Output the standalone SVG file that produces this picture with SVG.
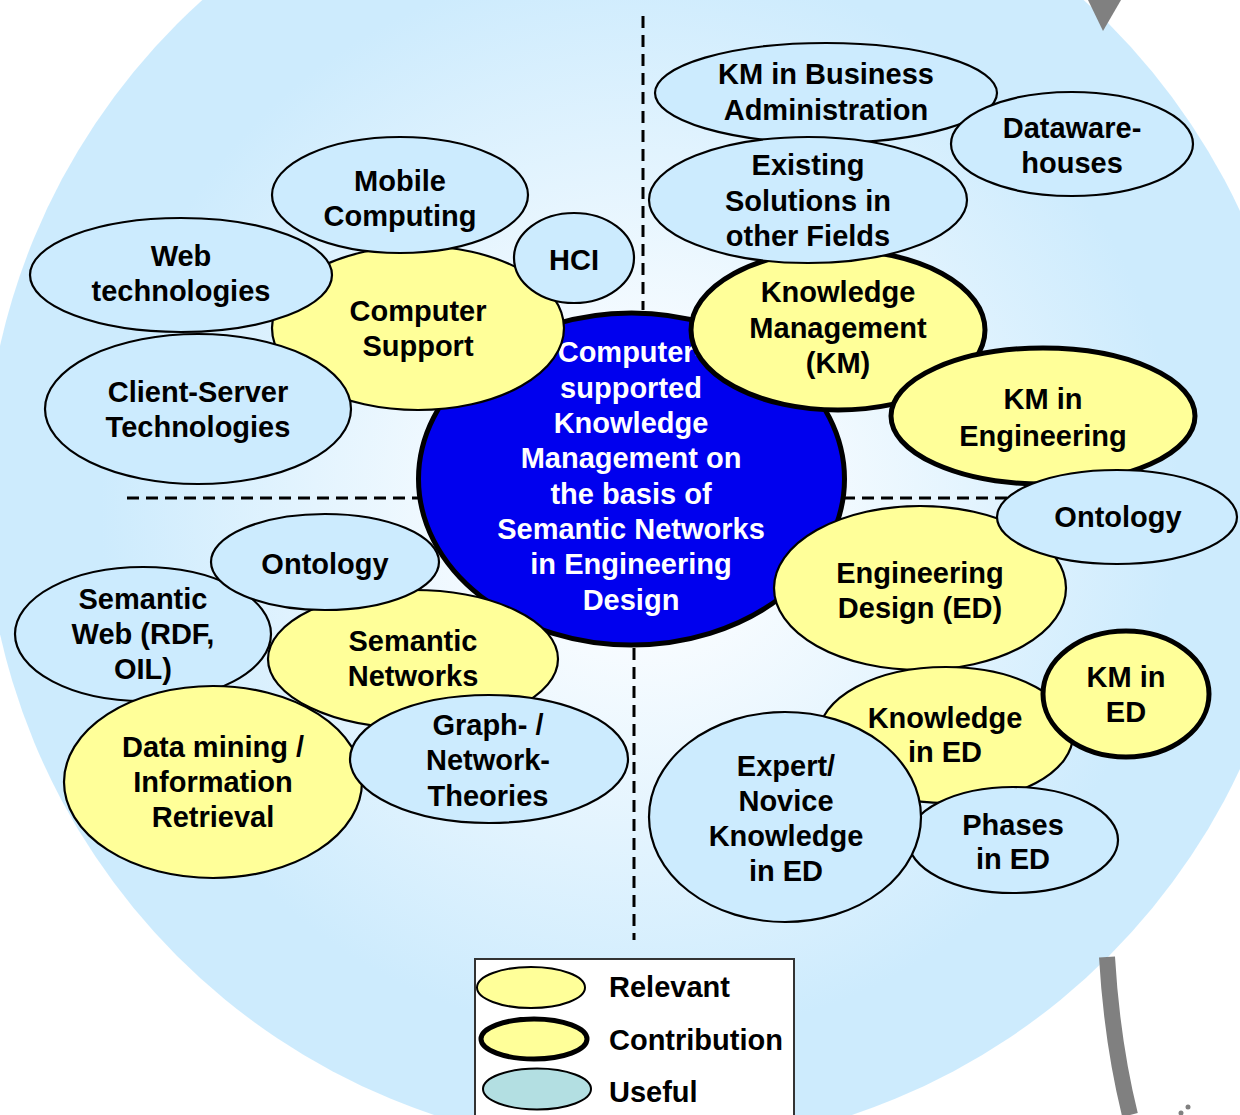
<svg xmlns="http://www.w3.org/2000/svg" width="1240" height="1115" viewBox="0 0 1240 1115">
<defs>
<radialGradient id="bg" gradientUnits="userSpaceOnUse" cx="640" cy="500" r="540">
<stop offset="0" stop-color="#ffffff"/>
<stop offset="0.25" stop-color="#f8fcff"/>
<stop offset="1" stop-color="#cdebfd"/>
</radialGradient>
<style>
text{font-family:"Liberation Sans",Arial,sans-serif;font-weight:bold;font-size:29px;text-anchor:middle;fill:#000}
.c text{fill:#fff}
.use{fill:#ccebfe;stroke:#000;stroke-width:2.2}
.rel{fill:#ffff99;stroke:#000;stroke-width:2.2}
.con{fill:#ffff99;stroke:#000;stroke-width:5}
.dash{stroke:#000;stroke-width:3;stroke-dasharray:12 7;fill:none}
</style>
</defs>
<rect width="1240" height="1115" fill="#fff"/>
<circle cx="643" cy="490" r="659" fill="url(#bg)"/>
<polygon points="1088,0 1121,0 1103,31" fill="#808080"/>
<path d="M1107,957 Q1112,1042 1130,1115" fill="none" stroke="#808080" stroke-width="16"/>
<circle cx="1188" cy="1107" r="2.5" fill="#808080"/>
<circle cx="1181" cy="1113" r="2.5" fill="#808080"/>

<g id="connectors">
<line class="dash" x1="643" y1="16" x2="643" y2="310"/>
<line class="dash" x1="127" y1="498" x2="420" y2="498"/>
<line class="dash" x1="843" y1="498" x2="1010" y2="498"/>
<line class="dash" x1="634" y1="648" x2="634" y2="940"/>
</g>

<g id="center" class="c">
<ellipse cx="631.5" cy="479" rx="213" ry="166" fill="#0000ee" stroke="#000" stroke-width="5"/>
<text x="631" y="362">Computer-</text>
<text x="631" y="398">supported</text>
<text x="631" y="433">Knowledge</text>
<text x="631" y="468">Management on</text>
<text x="631" y="504">the basis of</text>
<text x="631" y="539">Semantic Networks</text>
<text x="631" y="574">in Engineering</text>
<text x="631" y="610">Design</text>
</g>

<g id="computer-support">
<ellipse class="rel" cx="418" cy="328" rx="146" ry="82"/>
<text x="418" y="321">Computer</text>
<text x="418" y="356">Support</text>
</g>
<g id="web-tech">
<ellipse class="use" cx="181" cy="275" rx="151" ry="57"/>
<text x="181" y="266">Web</text>
<text x="181" y="301">technologies</text>
</g>
<g id="client-server">
<ellipse class="use" cx="198" cy="409" rx="153" ry="75"/>
<text x="198" y="402">Client-Server</text>
<text x="198" y="437">Technologies</text>
</g>
<g id="mobile">
<ellipse class="use" cx="400" cy="195" rx="128" ry="58"/>
<text x="400" y="191">Mobile</text>
<text x="400" y="226">Computing</text>
</g>
<g id="hci">
<ellipse class="use" cx="574" cy="258" rx="60" ry="45"/>
<text x="574" y="270">HCI</text>
</g>

<g id="km">
<ellipse class="con" cx="838" cy="330" rx="147" ry="80"/>
<text x="838" y="302">Knowledge</text>
<text x="838" y="338">Management</text>
<text x="838" y="373">(KM)</text>
</g>
<g id="km-business">
<ellipse class="use" cx="826" cy="93" rx="171" ry="50"/>
<text x="826" y="84">KM in Business</text>
<text x="826" y="120">Administration</text>
</g>
<g id="existing">
<ellipse class="use" cx="808" cy="200" rx="159" ry="63"/>
<text x="808" y="175">Existing</text>
<text x="808" y="211">Solutions in</text>
<text x="808" y="246">other Fields</text>
</g>
<g id="datawarehouses">
<ellipse class="use" cx="1072" cy="144" rx="121" ry="52"/>
<text x="1072" y="138">Dataware-</text>
<text x="1072" y="173">houses</text>
</g>
<g id="km-engineering">
<ellipse class="con" cx="1043" cy="416" rx="152" ry="68"/>
<text x="1043" y="409">KM in</text>
<text x="1043" y="446">Engineering</text>
</g>

<g id="ed">
<ellipse class="rel" cx="920" cy="588" rx="146" ry="82"/>
<text x="920" y="583">Engineering</text>
<text x="920" y="618">Design (ED)</text>
</g>
<g id="ontology-right">
<ellipse class="use" cx="1117" cy="517" rx="120" ry="47"/>
<text x="1118" y="527">Ontology</text>
</g>
<g id="knowledge-ed">
<ellipse class="rel" cx="946" cy="735" rx="127" ry="68"/>
<text x="945" y="728">Knowledge</text>
<text x="945" y="762">in ED</text>
</g>
<g id="km-ed">
<ellipse class="con" cx="1126" cy="694" rx="83" ry="63"/>
<text x="1126" y="687">KM in</text>
<text x="1126" y="722">ED</text>
</g>
<g id="phases">
<ellipse class="use" cx="1013" cy="840" rx="105" ry="53"/>
<text x="1013" y="835">Phases</text>
<text x="1013" y="869">in ED</text>
</g>
<g id="expert">
<ellipse class="use" cx="785" cy="817" rx="136" ry="105"/>
<text x="786" y="776">Expert/</text>
<text x="786" y="811">Novice</text>
<text x="786" y="846">Knowledge</text>
<text x="786" y="881">in ED</text>
</g>

<g id="semantic-networks">
<ellipse class="rel" cx="413" cy="659" rx="145" ry="69"/>
<text x="413" y="651">Semantic</text>
<text x="413" y="686">Networks</text>
</g>
<g id="semantic-web">
<ellipse class="use" cx="143" cy="634" rx="128" ry="67"/>
<text x="143" y="609">Semantic</text>
<text x="143" y="644">Web (RDF,</text>
<text x="143" y="679">OIL)</text>
</g>
<g id="ontology-left">
<ellipse class="use" cx="325" cy="562" rx="114" ry="48"/>
<text x="325" y="574">Ontology</text>
</g>
<g id="data-mining">
<ellipse class="rel" cx="213" cy="782" rx="149" ry="96"/>
<text x="213" y="757">Data mining /</text>
<text x="213" y="792">Information</text>
<text x="213" y="827">Retrieval</text>
</g>
<g id="graph">
<ellipse class="use" cx="489" cy="759" rx="139" ry="64"/>
<text x="488" y="735">Graph- /</text>
<text x="488" y="770">Network-</text>
<text x="488" y="806">Theories</text>
</g>

<g id="legend">
<rect x="475" y="959" width="319" height="170" fill="#fff" stroke="#333" stroke-width="2"/>
<ellipse cx="531" cy="987.5" rx="54" ry="20.5" fill="#ffff99" stroke="#000" stroke-width="2"/>
<ellipse cx="534" cy="1039" rx="53" ry="20" fill="#ffff99" stroke="#000" stroke-width="5"/>
<ellipse cx="537" cy="1089" rx="54" ry="20.5" fill="#b3dfe2" stroke="#000" stroke-width="2"/>
<text x="609" y="997" style="text-anchor:start">Relevant</text>
<text x="609" y="1050" style="text-anchor:start">Contribution</text>
<text x="609" y="1102" style="text-anchor:start">Useful</text>
</g>
</svg>
